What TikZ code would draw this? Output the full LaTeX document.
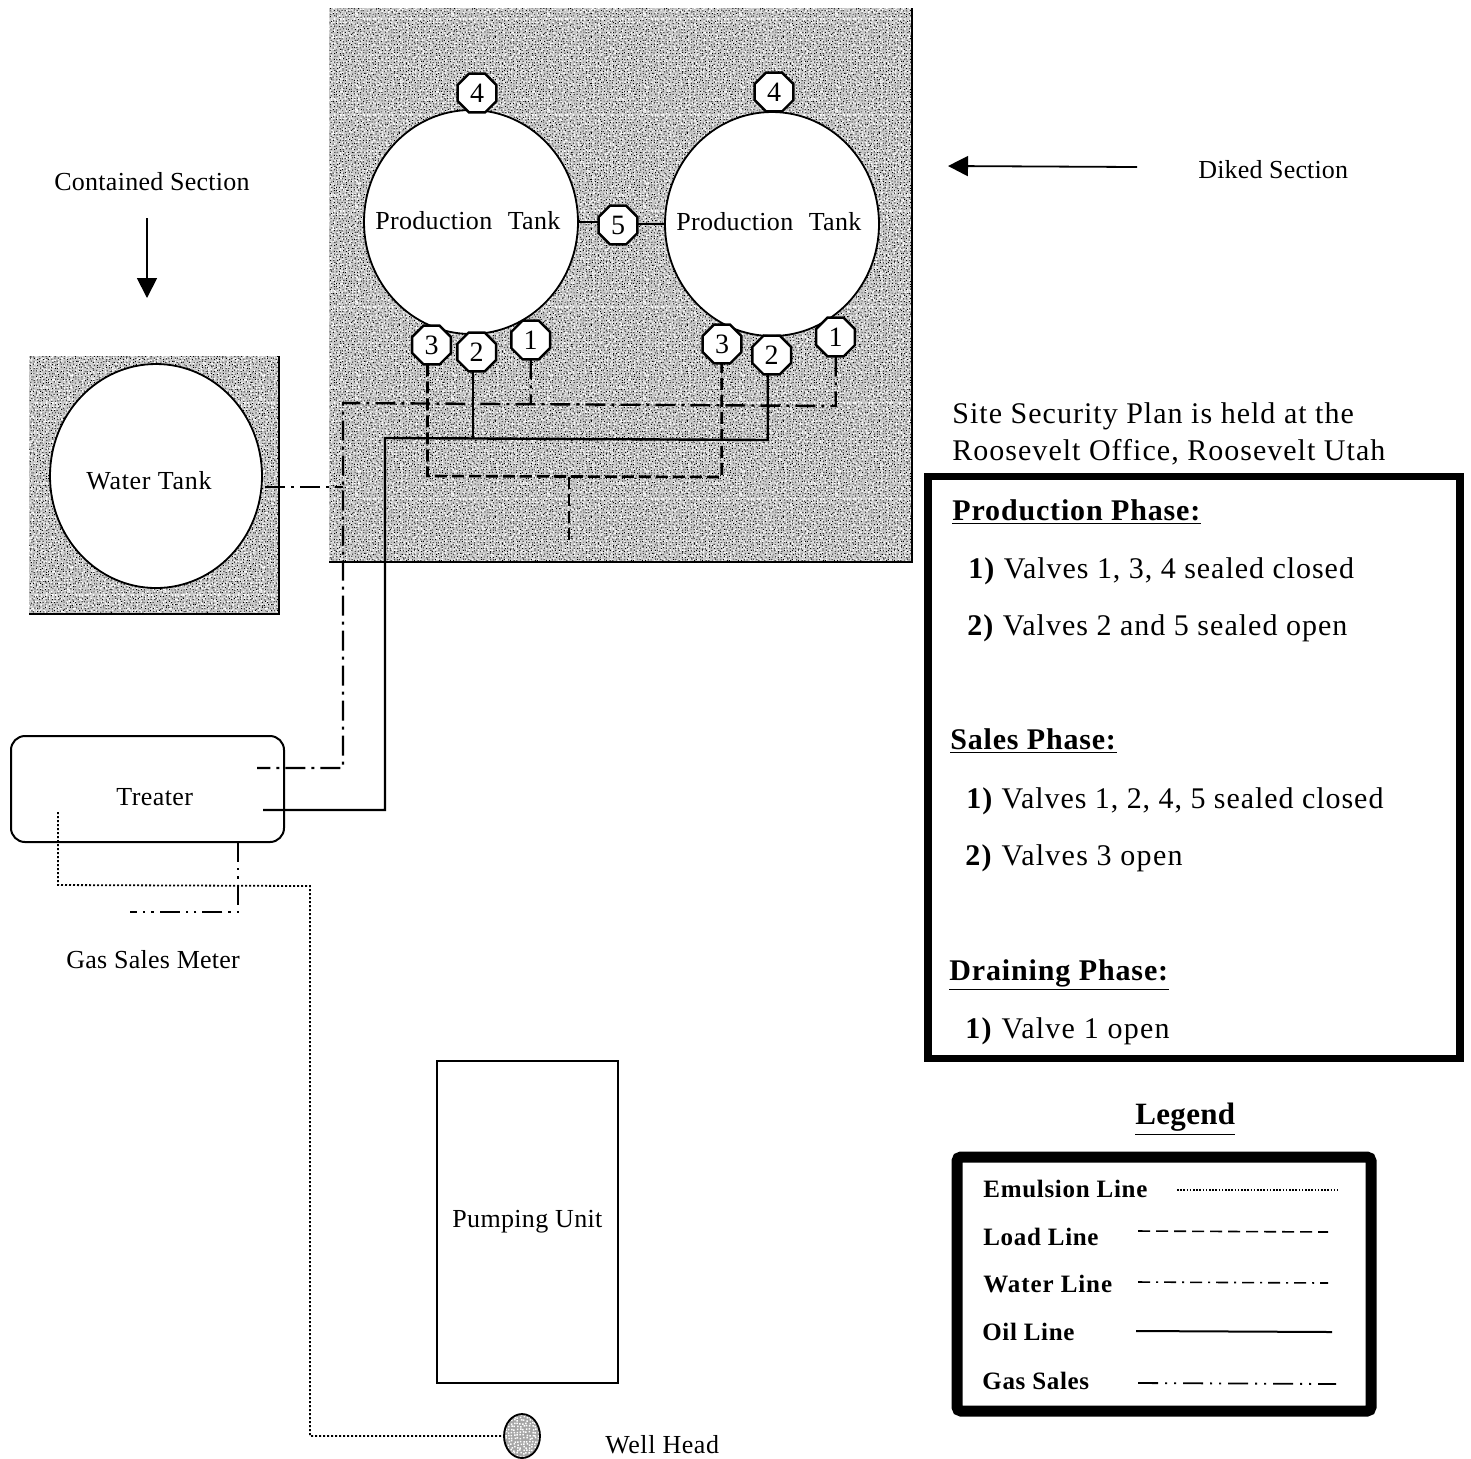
\documentclass[tikz,border=0pt]{standalone}
\usepackage{fontspec}
\setmainfont{Liberation Serif}
\usetikzlibrary{shapes.geometric,patterns,arrows.meta,calc}
\newcommand{\speckle}[2]{%
  \pgfmathsetseed{#1}%
  \foreach \i in {0,...,31}{\foreach \j in {0,...,31}{%
    \pgfmathsetmacro{\xa}{\i*1.5+rnd*0.9}\pgfmathsetmacro{\ya}{\j*1.5+rnd*0.9}%
    \pgfpathrectangle{\pgfpoint{\xa pt}{\ya pt}}{\pgfqpoint{#2pt}{#2pt}}%
  }}%
  \pgfusepath{fill}}
\pgfdeclarepatternformonly{noisy}{\pgfqpoint{0pt}{0pt}}{\pgfqpoint{48pt}{48pt}}{\pgfqpoint{48pt}{48pt}}{\speckle{11}{0.5}}
\pgfdeclarepatternformonly{noisyw}{\pgfqpoint{0pt}{0pt}}{\pgfqpoint{48pt}{48pt}}{\pgfqpoint{48pt}{48pt}}{\speckle{29}{0.75}}
\newcommand{\lbl}[3]{{\fontsize{#1}{#1}\selectfont\addfontfeature{LetterSpace=#2}#3}}
\tikzset{
  x=0.5pt,y=-0.5pt,
  stipple/.style={preaction={fill=gray!45},preaction={pattern=noisyw,pattern color=white},pattern=noisy,pattern color=black,inner sep=0pt,outer sep=0pt,anchor=north west},
  edgeline/.style={line width=0.9pt},
  tank/.style={ellipse,draw=black,fill=white,line width=0.9pt,inner sep=0pt,outer sep=0pt,minimum width=214*0.5pt,minimum height=224*0.5pt},
  valve/.style={regular polygon,regular polygon sides=8,draw=black,fill=white,line width=1.2pt,inner sep=0pt,outer sep=0pt,minimum size=21pt,font=\fontsize{14}{14}\selectfont},
  plain/.style={inner sep=0pt,align=left,anchor=west},
  oilline/.style={line width=1.2pt},
  waterline/.style={line width=1.2pt,dash pattern=on 10pt off 3pt on 1.5pt off 3pt},
  loadline/.style={line width=1.3pt,dash pattern=on 6pt off 2.5pt},
  emulsionline/.style={line width=0.9pt,dash pattern=on 1pt off 1pt},
  gasline/.style={line width=1.1pt,dash pattern=on 10pt off 3pt on 1.2pt off 3pt on 1.2pt off 3pt},
  pointer/.style={line width=0.9pt,-{Triangle[length=10pt,width=10pt]}},
  heavy/.style={draw=black,line width=3.75pt,anchor=north west,inner sep=0pt,outer sep=0pt},
}
\begin{document}
\begin{tikzpicture}
\useasboundingbox (0,0) rectangle (1471,1458);
% shaded sections
\node[stipple,minimum width=291.5pt,minimum height=277pt] (diked) at (329,8) {};
\node[stipple,minimum width=125pt,minimum height=129pt] (contained) at (29,356) {};
\draw[edgeline] (diked.north east) -- (diked.south east) -- (diked.south west);
\draw[edgeline] (contained.north east) -- (contained.south east) -- (contained.south west);
% tanks
\node[tank] (tankL) at (471,222) {};
\node[tank] (tankR) at (772,224) {};
\node[tank,minimum width=106pt] (tankW) at (156,476) {};
\node[plain] (tankLt) at (375,221) {\lbl{13}{1.2}{Production\,\, Tank}};
\node[plain] (tankRt) at (676,222) {\lbl{13}{1.2}{Production\,\, Tank}};
\node[plain] (tankWt) at (86,481) {\lbl{13}{2.7}{Water Tank}};
% valves
\node[valve] (vT1) at (477,93) {4};
\node[valve] (vT2) at (774,92) {4};
\node[valve] (v5) at (618,225) {5};
\node[valve] (v3L) at (431.5,345) {3};
\node[valve] (v2L) at (476.7,352) {2};
\node[valve] (v1L) at (530.7,340) {1};
\node[valve] (v3R) at (722,344) {3};
\node[valve] (v2R) at (771.7,355) {2};
\node[valve] (v1R) at (835.5,337) {1};
% other equipment
\node[draw=black,rounded corners=7pt,line width=1pt,outer sep=0pt,minimum width=136.5pt,minimum height=53pt,inner sep=0pt,anchor=north west] (treater) at (11,736) {};
\node[plain] (treatert) at (116,797) {\lbl{13}{1.6}{Treater}};
\node[draw=black,line width=0.9pt,outer sep=0pt,minimum width=90.5pt,minimum height=161pt,inner sep=0pt,anchor=north west] (pump) at (437,1061) {};
\node[plain] (pumpt) at (452,1222) {\lbl{13}{1.3}{Pumping Unit}};
\node[ellipse,draw=black,line width=0.9pt,minimum width=18pt,minimum height=22pt,inner sep=0pt,outer sep=0pt,preaction={fill=gray!70},pattern=noisyw,pattern color=white] (well) at (522,1436) {};
\node[plain] (wellt) at (605,1445) {\lbl{13}{2.1}{Well Head}};
% coordinates
\coordinate (wNW) at (343,403);
\coordinate (wNE) at (835.7,406);
\coordinate (wJ1) at (530.7,404);
\coordinate (wSW) at (343,768);
\coordinate (wEnd) at (257,768);
\coordinate (wJ2) at (343,487);
\coordinate (wStart) at (265,487);
\coordinate (oNW) at (385,438);
\coordinate (oNE) at (767.7,440);
\coordinate (oJ) at (472.7,438.5);
\coordinate (oSW) at (385,810);
\coordinate (oEnd) at (263,810);
\coordinate (lSW) at (427.5,476);
\coordinate (lSE) at (721.7,477);
\coordinate (lJ) at (569,477);
\coordinate (lEnd) at (569,540);
\coordinate (eStart) at (58,812);
\coordinate (eA) at (58,885);
\coordinate (eB) at (310,886);
\coordinate (eC) at (310,1436);
\coordinate (gStart) at (238,842);
\coordinate (gA) at (238,912);
\coordinate (gEnd) at (130,912);
% connectors
\draw[oilline] (tankL.east) -- (tankL.east -| v5.west);
\draw[oilline] (tankR.west -| v5.east) -- (tankR.west);
\draw[waterline] (wStart) -- (wJ2);
\draw[waterline] (v1L.south) -- (wJ1);
\draw[waterline] (v1R.south -| wNE) -- (wNE) -- (wNW) -- (wSW) -- (wEnd);
\draw[oilline] (v2L.south -| oJ) -- (oJ);
\draw[oilline] (v2R.south -| oNE) -- (oNE) -- (oNW) -- (oSW) -- (oEnd);
\draw[loadline] (v3L.south -| lSW) -- (lSW) -- (lSE) -- (v3R.south -| lSE);
\draw[loadline] (lJ) -- (lEnd);
\draw[emulsionline] (eStart) -- (eA) -- (eB) -- (eC) -- (well.west);
\draw[gasline] (gStart) -- (gA) -- (gEnd);
% pointers and captions
\coordinate (a1s) at (147,218); \coordinate (a1e) at (147,298);
\coordinate (a2s) at (1137,167); \coordinate (a2e) at (948,166);
\draw[pointer] (a1s) -- (a1e);
\draw[pointer] (a2s) -- (a2e);
\node[plain] (cs) at (54,182) {\lbl{13}{1}{Contained Section}};
\node[plain] (ds) at (1198,170) {\lbl{13}{0.6}{Diked Section}};
\node[plain] (gm) at (66,960) {\lbl{13}{1}{Gas Sales Meter}};
\node[plain] (sp1) at (952,416) {\lbl{15}{3.4}{Site Security Plan is held at the}};
\node[plain] (sp2) at (952,452) {\lbl{15}{3.4}{Roosevelt Office, Roosevelt Utah}};
% phases box
\node[heavy,minimum width=266pt,minimum height=291pt] (phases) at (928,476.5) {};
\node[plain] (h1) at (952,512) {\lbl{15}{2.8}{\underline{\textbf{Production Phase:}}}};
\node[plain] (p1) at (968,571) {\lbl{15}{3.2}{\textbf{1)} Valves 1, 3, 4 sealed closed}};
\node[plain] (p2) at (967,628) {\lbl{15}{3.4}{\textbf{2)} Valves 2 and 5 sealed open}};
\node[plain] (h2) at (950,741) {\lbl{15}{2.7}{\underline{\textbf{Sales Phase:}}}};
\node[plain] (s1) at (966,801) {\lbl{15}{3.15}{\textbf{1)} Valves 1, 2, 4, 5 sealed closed}};
\node[plain] (s2) at (965,858) {\lbl{15}{4.2}{\textbf{2)} Valves 3 open}};
\node[plain] (h3) at (949,975) {\lbl{15}{2.9}{\underline{\textbf{Draining Phase:}}}};
\node[plain] (d1) at (965,1031) {\lbl{15}{4.2}{\textbf{1)} Valve 1 open}};
% legend
\node[plain] (lg) at (1135,1119) {\lbl{15.5}{1}{\underline{\textbf{Legend}}}};
\node[heavy,line width=5.5pt,rounded corners=2pt,minimum width=207pt,minimum height=127pt] (legend) at (957,1157) {};
\node[plain] (l1) at (983,1189) {\lbl{12.5}{2.8}{\textbf{Emulsion Line}}};
\node[plain] (l2) at (983,1237) {\lbl{12.5}{2.7}{\textbf{Load Line}}};
\node[plain] (l3) at (983,1284) {\lbl{12.5}{3.6}{\textbf{Water Line}}};
\node[plain] (l4) at (982,1332) {\lbl{12.5}{2.5}{\textbf{Oil Line}}};
\node[plain] (l5) at (982,1381) {\lbl{12.5}{2.7}{\textbf{Gas Sales}}};
\coordinate (k1a) at (1177,1190); \coordinate (k1b) at (1338,1190);
\coordinate (k2a) at (1138,1231); \coordinate (k2b) at (1328,1232);
\coordinate (k3a) at (1138,1282); \coordinate (k3b) at (1328,1283);
\coordinate (k4a) at (1136,1331); \coordinate (k4b) at (1332,1332);
\coordinate (k5a) at (1138,1383); \coordinate (k5b) at (1336,1384);
\draw[line width=0.8pt,dash pattern=on 0.8pt off 0.8pt] (k1a) -- (k1b);
\draw[line width=0.8pt,dash pattern=on 6pt off 3pt] (k2a) -- (k2b);
\draw[line width=0.8pt,dash pattern=on 6pt off 3pt on 1pt off 3pt] (k3a) -- (k3b);
\draw[line width=1pt] (k4a) -- (k4b);
\draw[line width=0.9pt,dash pattern=on 10pt off 3.5pt on 1pt off 3.5pt on 1pt off 3.5pt] (k5a) -- (k5b);
\end{tikzpicture}
\end{document}
